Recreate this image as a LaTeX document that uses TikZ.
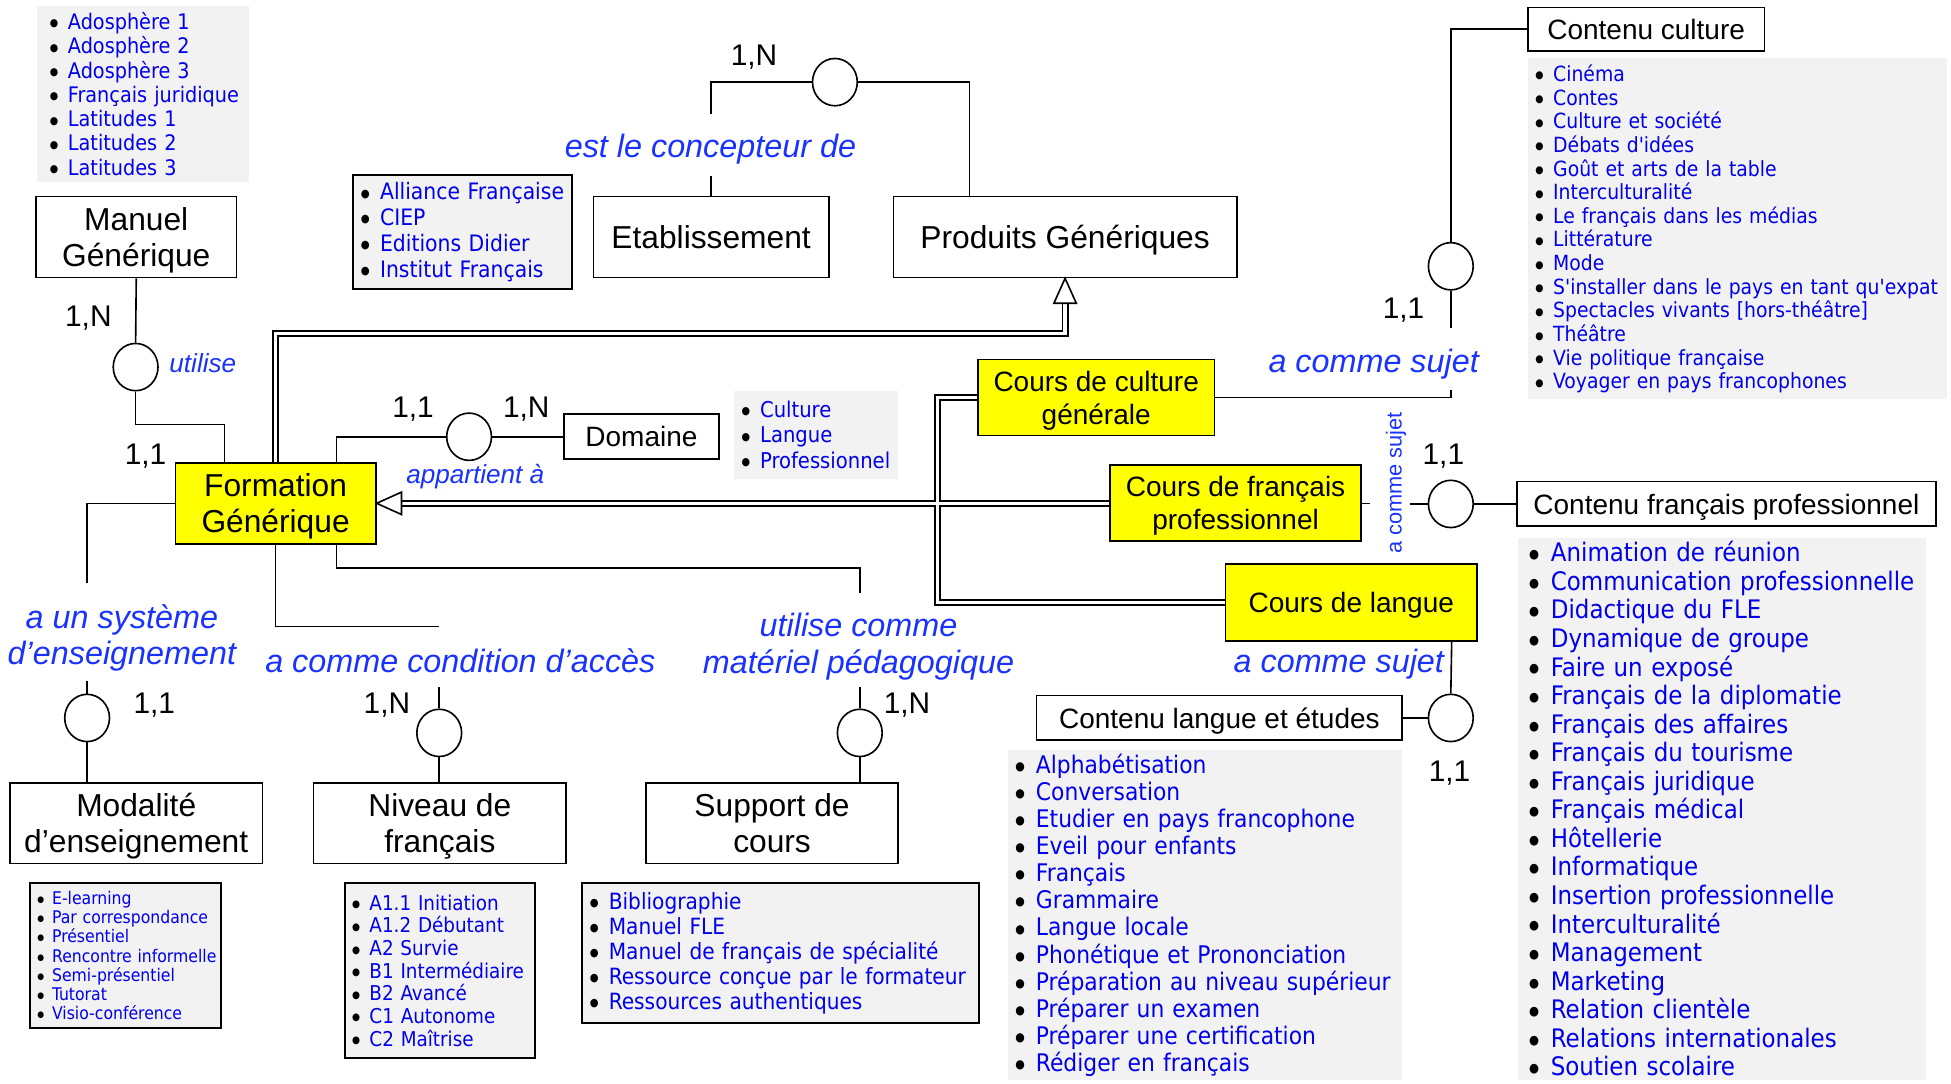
\documentclass[tikz,border=0pt]{standalone}
\usepackage{fontspec}
\usepackage{graphicx}
\setmainfont{Liberation Sans}
\newfontfamily\lf{DejaVu Sans Condensed}
\usetikzlibrary{shapes.geometric,calc}
\definecolor{lblue}{RGB}{25,50,255}
\definecolor{iblue}{RGB}{0,0,235}
\definecolor{ylw}{RGB}{255,255,0}
\newcommand\li[1]{\mbox{\color{black}\makebox[0.85em][l]{\raisebox{0.12em}{\scalebox{0.5}{●}}}\color{iblue}#1}}
\begin{document}
\begin{tikzpicture}[x=1pt,y=-1pt,
  ent/.style={draw, line width=1.4pt, inner sep=2pt, align=center, text depth=0pt, font=\fontsize{25.5}{29}\selectfont},
  ment/.style={ent, font=\fontsize{22.5}{26.5}\selectfont},
  yent/.style={ment, fill=ylw},
  assoc/.style={draw, line width=1.3pt, ellipse, minimum width=36pt, minimum height=38pt, inner sep=0pt},
  card/.style={font=\fontsize{24}{28}\selectfont, text depth=0pt},
  rel/.style={text=lblue, align=center, text depth=0pt, font=\fontsize{26}{29}\selectfont\itshape},
  srel/.style={text=lblue, text depth=0pt, font=\fontsize{21}{24}\selectfont\itshape},
  conn/.style={line width=1.3pt},
  lst/.style={fill=black!5, inner ysep=0pt, align=left},
  blst/.style={lst, draw, line width=1.6pt}
]
\useasboundingbox (0,0) rectangle (1568,871);

% ---------- entities ----------
\node[ent, minimum width=161pt, minimum height=65pt] (mg) at (109.5,190.5) {Manuel\\Générique};
\node[ent, minimum width=189pt, minimum height=65pt] (et) at (571.5,190.5) {Etablissement};
\node[ent, minimum width=276pt, minimum height=65pt] (pg) at (856,190.5) {Produits Génériques};
\node[ment, minimum width=190pt, minimum height=35pt] (cc) at (1323,23.5) {Contenu culture};
\node[ent, fill=ylw, minimum width=161pt, minimum height=65pt] (fg) at (221.5,404.5) {Formation\\Générique};
\node[ment, minimum width=125pt, minimum height=36pt] (dom) at (515.5,351) {Domaine};
\node[yent, minimum width=190pt, minimum height=61pt] (ccg) at (881,319.5) {Cours de culture\\générale};
\node[yent, minimum width=202pt, minimum height=61pt] (cfp) at (993,404.5) {Cours de français\\professionnel};
\node[ment, minimum width=337pt, minimum height=36pt] (cfpro) at (1387.5,405) {Contenu français professionnel};
\node[yent, minimum width=202pt, minimum height=62pt] (cl) at (1086,484) {Cours de langue};
\node[ment, minimum width=294pt, minimum height=36pt] (cle) at (980,577) {Contenu langue et études};
\node[ent, minimum width=203pt, minimum height=65pt] (mod) at (109.5,661.5) {Modalité\\d’enseignement};
\node[ent, minimum width=203pt, minimum height=65pt] (niv) at (353.5,661.5) {Niveau de\\français};
\node[ent, minimum width=203pt, minimum height=65pt] (sup) at (620.5,661.5) {Support de\\cours};

% ---------- associations ----------
\node[assoc] (a1) at (109,295) {};
\node[assoc] (a2) at (671,66) {};
\node[assoc] (a3) at (1166,214) {};
\node[assoc] (a4) at (377,351) {};
\node[assoc] (a5) at (1166,405) {};
\node[assoc] (a6) at (1166,577) {};
\node[assoc] (a7) at (70,577) {};
\node[assoc] (a8) at (353,589) {};
\node[assoc] (a9) at (691,589) {};

% ---------- lists ----------
\node[lst, minimum width=170pt, minimum height=141pt, text width=150pt, inner xsep=10pt, font=\lf\fontsize{17.2}{19.5}\selectfont] (l1) at (115,75.5)
 {\li{Adosphère 1}\\\li{Adosphère 2}\\\li{Adosphère 3}\\\li{Français juridique}\\\li{Latitudes 1}\\\li{Latitudes 2}\\\li{Latitudes 3}};
\node[blst, minimum width=176pt, minimum height=91pt, text width=164pt, inner xsep=6pt, font=\lf\fontsize{18.2}{20.7}\selectfont] (l2) at (372,186.5)
 {\li{Alliance Française}\\\li{CIEP}\\\li{Editions Didier}\\\li{Institut Français}};
\node[lst, minimum width=337pt, minimum height=274pt, text width=325pt, inner xsep=6pt, font=\lf\fontsize{16.8}{19}\selectfont] (l3) at (1396.5,184)
 {\li{Cinéma}\\\li{Contes}\\\li{Culture et société}\\\li{Débats d'idées}\\\li{Goût et arts de la table}\\\li{Interculturalité}\\\li{Le français dans les médias}\\\li{Littérature}\\\li{Mode}\\\li{S'installer dans le pays en tant qu'expat}\\\li{Spectacles vivants [hors-théâtre]}\\\li{Théâtre}\\\li{Vie politique française}\\\li{Voyager en pays francophones}};
\node[lst, minimum width=132pt, minimum height=71pt, text width=120pt, inner xsep=6pt, font=\lf\fontsize{17.5}{20.5}\selectfont] (l4) at (656,349.5)
 {\li{Culture}\\\li{Langue}\\\li{Professionnel}};
\node[lst, minimum width=317pt, minimum height=265pt, text width=305pt, inner xsep=6pt, font=\lf\fontsize{19.5}{21.8}\selectfont] (l5) at (968.5,735.5)
 {\li{Alphabétisation}\\\li{Conversation}\\\li{Etudier en pays francophone}\\\li{Eveil pour enfants}\\\li{Français}\\\li{Grammaire}\\\li{Langue locale}\\\li{Phonétique et Prononciation}\\\li{Préparation au niveau supérieur}\\\li{Préparer un examen}\\\li{Préparer une certification}\\\li{Rédiger en français}};
\node[lst, minimum width=328pt, minimum height=436pt, text width=310pt, inner xsep=9pt, font=\lf\fontsize{20.5}{22.95}\selectfont] (l6) at (1384,650)
 {\li{Animation de réunion}\\\li{Communication professionnelle}\\\li{Didactique du FLE}\\\li{Dynamique de groupe}\\\li{Faire un exposé}\\\li{Français de la diplomatie}\\\li{Français des affaires}\\\li{Français du tourisme}\\\li{Français juridique}\\\li{Français médical}\\\li{Hôtellerie}\\\li{Informatique}\\\li{Insertion professionnelle}\\\li{Interculturalité}\\\li{Management}\\\li{Marketing}\\\li{Relation clientèle}\\\li{Relations internationales}\\\li{Soutien scolaire}};
\node[blst, minimum width=154pt, minimum height=116pt, text width=142pt, inner xsep=6pt, font=\lf\fontsize{14}{15.5}\selectfont] (l7) at (101,768)
 {\li{E-learning}\\\li{Par correspondance}\\\li{Présentiel}\\\li{Rencontre informelle}\\\li{Semi-présentiel}\\\li{Tutorat}\\\li{Visio-conférence}};
\node[blst, minimum width=153pt, minimum height=140pt, text width=141pt, inner xsep=6pt, font=\lf\fontsize{16.4}{18.2}\selectfont] (l8) at (353.5,780)
 {\li{A1.1 Initiation}\\\li{A1.2 Débutant}\\\li{A2 Survie}\\\li{B1 Intermédiaire}\\\li{B2 Avancé}\\\li{C1 Autonome}\\\li{C2 Maîtrise}};
\node[blst, minimum width=319pt, minimum height=112pt, text width=307pt, inner xsep=6pt, font=\lf\fontsize{18}{20.2}\selectfont] (l9) at (627.5,766)
 {\li{Bibliographie}\\\li{Manuel FLE}\\\li{Manuel de français de spécialité}\\\li{Ressource conçue par le formateur}\\\li{Ressources authentiques}};

% ---------- inheritance (double lines) ----------
\foreach \lw/\lc in {5.5pt/black,2.6pt/white}{
  \draw[line width=\lw, draw=\lc] (fg.north) |- (856,268) -- ($(pg.south)+(0,20)$);
  \draw[line width=\lw, draw=\lc] (cfp.west) -- ($(fg.east)+(20,0)$);
  \draw[line width=\lw, draw=\lc] (ccg.west) -| ($(cl.west)+(-231,0)$) -- (cl.west);
}
\draw[line width=1.3pt, fill=white, line join=miter] (pg.south) -- ++(-9,20) -- ++(18,0) -- cycle;
\draw[line width=1.3pt, fill=white, line join=miter] (fg.east) -- ++(20,-9) -- ++(0,18) -- cycle;

% ---------- relationship lines ----------
\draw[conn] (mg.south) -- (a1.north);
\draw[conn] (a1.south) |- ($(fg.north west)+(40,-30)$) -- ($(fg.north west)+(40,0)$);
\draw[conn] (et.north) -- ++(0,-16);
\draw[conn] (a2.west) -| ($(et.north)+(0,-66)$);
\draw[conn] (a2.east) -| ($(pg.north west)+(62,0)$);
\draw[conn] (cc.west) -| (a3.north);
\draw[conn] (a3.south) -- ++(0,30);
\draw[conn] (ccg.east) -| ($(a3.south)+(0,80)$);
\draw[conn] ($(fg.north west)+(130,0)$) |- (a4.west);
\draw[conn] (a4.east) -- (dom.west);
\draw[conn] (cfpro.west) -- (a5.east);
\draw[conn] (a5.west) -- ++(-14,0);
\draw[conn] (cfp.east) -- ++(6,0);
\draw[conn] ($(cl.south east)+(-21,0)$) -- (a6.north);
\draw[conn] (a6.west) -- (cle.east);
\draw[conn] (fg.west) -| ($(a7.north)+(0,-89)$);
\draw[conn] (a7.north) -- ++(0,-10);
\draw[conn] (a7.south) -- (a7.south |- mod.north);
\draw[conn] (fg.south) |- ($(a8.north)+(0,-66)$);
\draw[conn] (a8.north) -- ++(0,-17);
\draw[conn] (a8.south) -- (a8.south |- niv.north);
\draw[conn] ($(fg.south west)+(130,0)$) |- ($(a9.north)+(0,-113)$) -- ++(0,20);
\draw[conn] (a9.north) -- ++(0,-17);
\draw[conn] (a9.south) -- (a9.south |- sup.north);

% ---------- labels ----------
\node[rel] (t1) at (571,117) {est le concepteur de};
\node[srel] (t2) at (163,292) {utilise};
\node[srel] (t3) at (382,381) {appartient à};
\node[rel] (t4) at (1104,290) {a comme sujet};
\node[text=lblue, rotate=90, font=\fontsize{17.5}{20}\selectfont] (t5) at (1122,388) {a comme sujet};
\node[rel] (t6) at (1076,531) {a comme sujet};
\node[rel] (t7) at (98,510) {a un système\\d’enseignement};
\node[rel] (t8) at (370,531) {a comme condition d’accès};
\node[rel] (t9) at (690,517) {utilise comme\\matériel pédagogique};

\node[card] (c1) at (606,44) {1,N};
\node[card] (c2) at (71,254) {1,N};
\node[card] (c3) at (117,365) {1,1};
\node[card] (c4) at (332,327) {1,1};
\node[card] (c5) at (423,327) {1,N};
\node[card] (c6) at (1128,248) {1,1};
\node[card] (c7) at (1160,365) {1,1};
\node[card] (c8) at (1165,620) {1,1};
\node[card] (c9) at (124,565) {1,1};
\node[card] (c10) at (311,565) {1,N};
\node[card] (c11) at (729,565) {1,N};
\end{tikzpicture}
\end{document}
